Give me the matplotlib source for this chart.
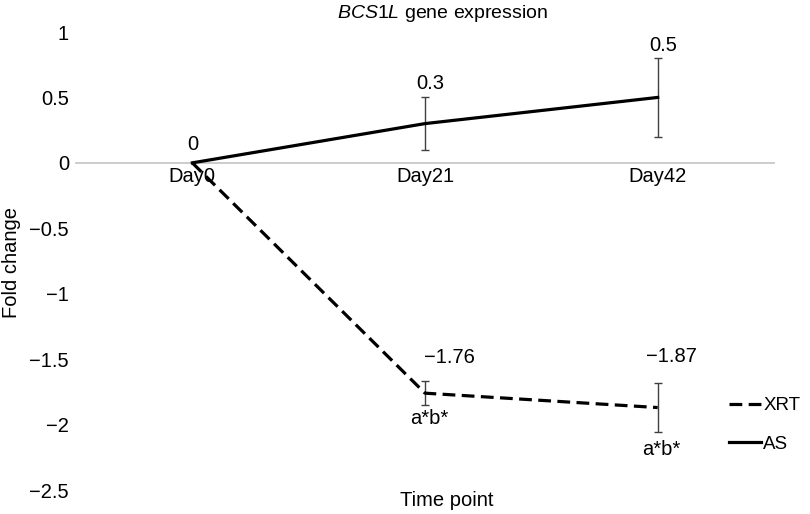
import matplotlib
matplotlib.use("Agg")
import matplotlib.pyplot as plt
import numpy as np

plt.rcParams['font.family'] = ['Liberation Sans', 'DejaVu Sans']
plt.rcParams['mathtext.fontset'] = 'custom'
plt.rcParams['mathtext.it'] = 'Liberation Sans:italic'
plt.rcParams['mathtext.rm'] = 'Liberation Sans'

categories = ["Day0", "Day21", "Day42"]
xrt_values = [0, -1.76, -1.87]
xrt_err = [0, 0.09, 0.19]
as_values = [0, 0.3, 0.5]
as_err = [0, 0.2, 0.3]
xrt_labels = ["", "\u22121.76", "\u22121.87"]
as_labels = ["0", "0.3", "0.5"]
sig_labels = ["", "a*b*", "a*b*"]
yticks = [1, 0.5, 0, -0.5, -1, -1.5, -2, -2.5]

FS = 14.5
fig = plt.figure(figsize=(8.1, 5.14), dpi=100)
ax = fig.add_axes([76/810, 1-490/514, 698/810, 458/514])
x = np.arange(len(categories))

ax.errorbar(x[1:], xrt_values[1:], yerr=xrt_err[1:], fmt='none', ecolor='#404040',
            elinewidth=1, capsize=3, capthick=1, zorder=2)
ax.errorbar(x[1:], as_values[1:], yerr=as_err[1:], fmt='none', ecolor='#404040',
            elinewidth=1, capsize=3, capthick=1, zorder=2)
l1, = ax.plot(x, xrt_values, color='black', lw=2.3, linestyle=(0, (4, 2)), label='XRT', zorder=3)
l2, = ax.plot(x, as_values, color='black', lw=2.3, label='AS', zorder=3)

ax.set_xlim(-0.5, 2.5)
ax.set_ylim(-2.5, 1)
ax.set_yticks(yticks)
ax.set_yticklabels([f"{v:g}".replace('-', '\u2212') for v in yticks])
ax.set_xticks(x)
ax.set_xticklabels(categories)
for s in ['top', 'right', 'left']:
    ax.spines[s].set_visible(False)
ax.spines['bottom'].set_position(('data', 0))
ax.spines['bottom'].set_color('#c8c8c8')
ax.spines['bottom'].set_linewidth(1.3)
ax.spines['bottom'].set_zorder(1)
ax.tick_params(axis='both', length=0, labelsize=FS)
ax.tick_params(axis='y', pad=5)
ax.tick_params(axis='x', pad=3)

# data labels
as_off = [(0, 18), (5, 40), (6, 52)]
for i, (lab, off) in enumerate(zip(as_labels, as_off)):
    ax.annotate(lab, (x[i], as_values[i]), xytext=off, textcoords='offset pixels',
                ha='center', va='center', fontsize=FS)
xrt_off = [(0, 0), (24, 36), (14, 51)]
for i in range(1, 3):
    ax.annotate(xrt_labels[i], (x[i], xrt_values[i]), xytext=xrt_off[i], textcoords='offset pixels',
                ha='center', va='center', fontsize=FS)
sig_off = [(0, 0), (4, -25), (4, -42)]
for i in range(1, 3):
    ax.annotate(sig_labels[i], (x[i], xrt_values[i]), xytext=sig_off[i], textcoords='offset pixels',
                ha='center', va='center', fontsize=FS)

fig.text(443/810, 1-13/514, r"$\it{BCS1L}$ gene expression", ha='center', va='center', fontsize=14)
fig.text(447/810, 1-500/514, "Time point", ha='center', va='center', fontsize=FS)
fig.text(12/810, 1-263/514, "Fold change", ha='center', va='center', rotation=90, fontsize=FS)

fig.legend(handles=[l1, l2], loc='center left', bbox_to_anchor=(729/810, 1-425/514),
           frameon=False, fontsize=13.5, handlelength=1.7, handletextpad=0.12,
           labelspacing=1.15, borderpad=0, borderaxespad=0)

fig.savefig("out.png", dpi=100)
